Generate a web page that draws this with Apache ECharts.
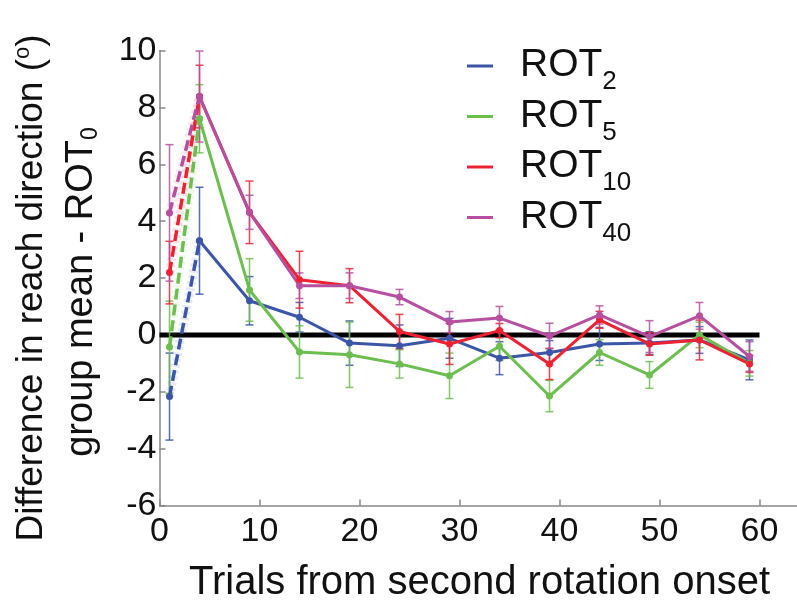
<!DOCTYPE html>
<html><head><meta charset="utf-8">
<script src="https://cdn.jsdelivr.net/npm/echarts@6/dist/echarts.min.js"></script>
<style>html,body{margin:0;padding:0;background:#fff}#c{width:797px;height:603px}</style>
</head><body><div id="c"></div>
<script>
// ---- data ----
const trials = [1, 4, 9, 14, 19, 24, 29, 34, 39, 44, 49, 54, 59];
const rot2     = [-2.17, 3.31, 1.20, 0.62, -0.29, -0.38, -0.12, -0.82, -0.62, -0.32, -0.29, -0.18, -0.88];
const rot2Err  = [1.53, 1.88, 0.85, 0.52, 0.78, 0.73, 0.70, 0.58, 0.42, 0.58, 0.40, 0.47, 0.70];
const rot5     = [-0.43, 7.60, 1.58, -0.60, -0.70, -1.02, -1.44, -0.40, -2.15, -0.62, -1.41, 0.00, -1.00];
const rot5Err  = [1.62, 1.20, 1.10, 0.92, 1.15, 0.50, 0.80, 0.50, 0.55, 0.45, 0.47, 0.45, 0.45];
const rot10    = [2.19, 8.38, 4.31, 1.94, 1.73, 0.12, -0.32, 0.15, -1.02, 0.53, -0.32, -0.18, -1.02];
const rot10Err = [1.10, 1.10, 1.10, 1.00, 0.60, 0.60, 0.72, 0.25, 0.55, 0.30, 0.40, 0.70, 0.30];
const rot40    = [4.29, 8.38, 4.31, 1.73, 1.73, 1.33, 0.45, 0.59, -0.04, 0.70, -0.06, 0.67, -0.76];
const rot40Err = [2.40, 1.60, 0.60, 0.45, 0.45, 0.27, 0.37, 0.41, 0.45, 0.32, 0.56, 0.47, 0.52];
const groupNames = ['ROT2', 'ROT5', 'ROT10', 'ROT40'];
const groupSubs  = ['2', '5', '10', '40'];
const zeroLineX = [0, 60];
const zeroLineY = [0, 0];
const xLabel = 'Trials from second rotation onset';
const yLabel1 = 'Difference in reach direction (';
const yLabel2 = 'group mean - ROT';

// ---- style ----
const FONT = '"Liberation Sans", Arial, Helvetica, sans-serif';
const colors = ['#3B56A6', '#6CBE4F', '#EC2233', '#B64F9F'];
const values = [rot2, rot5, rot10, rot40];
const errs = [rot2Err, rot5Err, rot10Err, rot40Err];

const series = [];
series.push({
  type: 'line', name: 'zero', silent: true, z: 1,
  data: zeroLineX.map((x, i) => [x, zeroLineY[i]]),
  symbol: 'none', lineStyle: { color: '#000', width: 5 }
});
values.forEach((vals, g) => {
  const c = colors[g];
  series.push({
    type: 'custom', name: groupNames[g], z: 2,
    itemStyle: { color: c },
    encode: { x: 0, y: [1, 2] },
    data: trials.map((t, k) => [t, vals[k] - errs[g][k], vals[k] + errs[g][k]]),
    renderItem: function (params, api) {
      const x = api.value(0);
      const p1 = api.coord([x, api.value(1)]);
      const p2 = api.coord([x, api.value(2)]);
      const w = 4;
      const st = { stroke: c, lineWidth: 1.5, opacity: 0.85 };
      return { type: 'group', children: [
        { type: 'line', shape: { x1: p1[0], y1: p1[1], x2: p2[0], y2: p2[1] }, style: st },
        { type: 'line', shape: { x1: p1[0] - w, y1: p1[1], x2: p1[0] + w, y2: p1[1] }, style: st },
        { type: 'line', shape: { x1: p2[0] - w, y1: p2[1], x2: p2[0] + w, y2: p2[1] }, style: st }
      ]};
    }
  });
  // faint thin companion of the early dashed segment
  series.push({
    type: 'line', name: groupNames[g], z: 2, silent: true,
    data: trials.slice(0, 2).map((t, k) => [t, vals[k]]),
    symbol: 'none',
    lineStyle: { color: c, width: 9, opacity: 0.12, type: [3, 3] }
  });
  series.push({
    type: 'line', name: groupNames[g], z: 3,
    data: trials.slice(0, 2).map((t, k) => [t, vals[k]]),
    symbol: 'circle', symbolSize: 7, showSymbol: true,
    itemStyle: { color: c },
    lineStyle: { color: c, width: 3.5, type: [11, 5] }
  });
  series.push({
    type: 'line', name: groupNames[g], z: 3,
    data: trials.slice(1).map((t, k) => [t, vals[k + 1]]),
    symbol: 'circle', symbolSize: 7, showSymbol: true,
    itemStyle: { color: c },
    lineStyle: { color: c, width: 3 }
  });
});

const chart = echarts.init(document.getElementById('c'), null, { renderer: 'canvas' });
chart.setOption({
  animation: false,
  backgroundColor: '#fff',
  grid: { left: 159.5, top: 50.5, width: 640, height: 455, outerBoundsMode: 'none', containLabel: false },
  xAxis: {
    type: 'value', min: 0, max: 64, interval: 10,
    name: xLabel, nameLocation: 'middle', nameGap: 57,
    nameTextStyle: { fontFamily: FONT, fontSize: 40, color: '#111' },
    axisLine: { show: true, onZero: false, lineStyle: { color: '#888', width: 1.5 } },
    axisTick: { show: true, inside: true, length: 6, lineStyle: { color: '#888', width: 1.5 } },
    axisLabel: { fontFamily: FONT, fontSize: 34, color: '#111', margin: 9,
      formatter: v => (v % 10 === 0 ? String(v) : '') },
    splitLine: { show: false }
  },
  yAxis: {
    type: 'value', min: -6, max: 10, interval: 2,
    axisLine: { show: true, onZero: false, lineStyle: { color: '#888', width: 1.5 } },
    axisTick: { show: true, inside: true, length: 6, lineStyle: { color: '#888', width: 1.5 } },
    axisLabel: { fontFamily: FONT, fontSize: 34, color: '#111', margin: 3 },
    splitLine: { show: false }
  },
  legend: {
    data: groupNames.map(n => ({ name: n, icon: 'rect' })),
    orient: 'vertical', left: 467, top: 46, padding: 0, itemGap: 1.5,
    itemWidth: 26, itemHeight: 3, selectedMode: false,
    formatter: name => '{m|ROT}{s|' + groupSubs[groupNames.indexOf(name)] + '}',
    textStyle: {
      color: '#111',
      rich: {
        m: { fontFamily: FONT, fontSize: 39, lineHeight: 40, verticalAlign: 'top', padding: [0, 0, 0, 22], color: '#111' },
        s: { fontFamily: FONT, fontSize: 26, lineHeight: 26, verticalAlign: 'top', padding: [23, 0, 0, 0], color: '#111' }
      }
    }
  },
  graphic: [
    { type: 'text', x: 32, y: 288, rotation: Math.PI / 2, z: 10,
      style: { text: '{m|' + yLabel1 + '}{sup|o}{m|)}', align: 'center', verticalAlign: 'middle', fill: '#111',
        font: '37px ' + FONT,
        rich: {
          m: { fontFamily: FONT, fontSize: 37, lineHeight: 40, fill: '#111' },
          sup: { fontFamily: FONT, fontSize: 22, lineHeight: 22, verticalAlign: 'top', fill: '#111' }
        } } },
    { type: 'text', x: 82, y: 292, rotation: Math.PI / 2, z: 10,
      style: { text: '{m|' + yLabel2 + '}{sub|0}', align: 'center', verticalAlign: 'middle', fill: '#111',
        font: '38px ' + FONT,
        rich: {
          m: { fontFamily: FONT, fontSize: 38, lineHeight: 40, fill: '#111' },
          sub: { fontFamily: FONT, fontSize: 23, lineHeight: 22, verticalAlign: 'bottom', fill: '#111' }
        } } }
  ],
  series: series
});
</script>
</body></html>
